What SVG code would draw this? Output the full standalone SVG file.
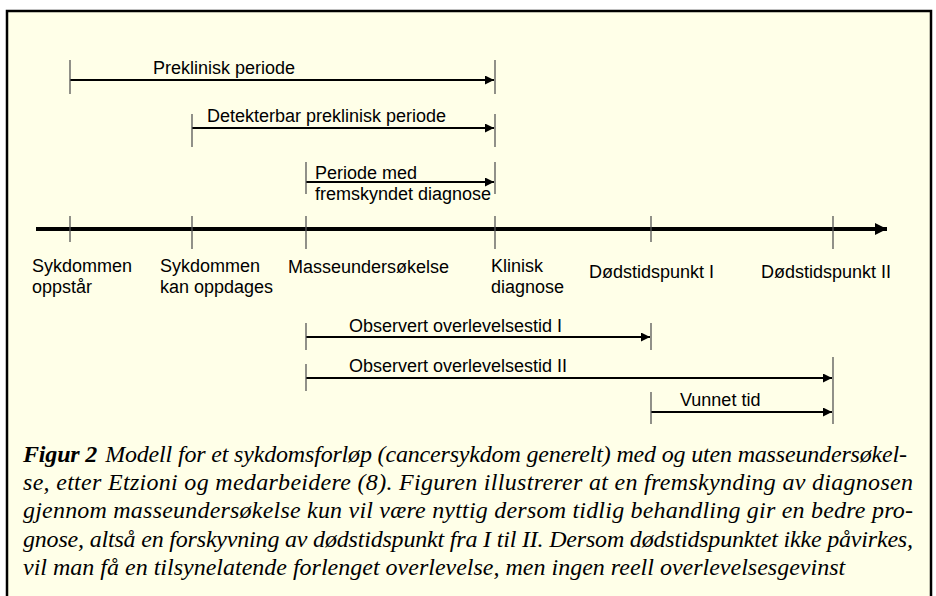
<svg xmlns="http://www.w3.org/2000/svg" width="936" height="596" viewBox="0 0 936 596">
<style>
.lbl{font-family:"Liberation Sans",Arial,sans-serif;font-size:18px;fill:#000}
.cap{font-family:"Liberation Serif","Times New Roman",serif;font-size:24px;font-style:italic;fill:#000}
.tick{stroke:#555;stroke-width:1.3}
.bar{stroke:#000;stroke-width:2;fill:none}
</style>
<defs>
<marker id="ah" viewBox="0 0 10 10" refX="10" refY="5" markerWidth="10" markerHeight="9" markerUnits="userSpaceOnUse" orient="auto">
<path d="M0,0 L10,5 L0,10 Z" fill="#000"/>
</marker>
<marker id="big" viewBox="0 0 10 10" refX="10" refY="5" markerWidth="16" markerHeight="12" markerUnits="userSpaceOnUse" orient="auto">
<path d="M0,0 L10,5 L0,10 Z" fill="#000"/>
</marker>
</defs>
<rect x="0" y="0" width="936" height="596" fill="#fff"/>
<rect x="7" y="11" width="924" height="600" fill="#FFFFE8" stroke="#000" stroke-width="2.5"/>

<g id="axis">
<line x1="36" y1="229" x2="887" y2="229" stroke="#000" stroke-width="4" marker-end="url(#big)"/>
<line class="tick" x1="70" y1="216" x2="70" y2="242"/>
<line class="tick" x1="192" y1="216" x2="192" y2="249"/>
<line class="tick" x1="306" y1="216" x2="306" y2="249"/>
<line class="tick" x1="495" y1="216" x2="495" y2="249"/>
<line class="tick" x1="651" y1="216" x2="651" y2="242"/>
<line class="tick" x1="833" y1="216" x2="833" y2="249"/>
</g>

<g id="lbl-oppstar"><text class="lbl" x="32" y="272">Sykdommen</text><text class="lbl" x="32" y="293">oppstår</text></g>
<g id="lbl-oppdages"><text class="lbl" x="160" y="272">Sykdommen</text><text class="lbl" x="160" y="293">kan oppdages</text></g>
<g id="lbl-masse"><text class="lbl" x="288" y="273">Masseundersøkelse</text></g>
<g id="lbl-klinisk"><text class="lbl" x="491" y="272">Klinisk</text><text class="lbl" x="491" y="293">diagnose</text></g>
<g id="lbl-dod1"><text class="lbl" x="589" y="278">Dødstidspunkt I</text></g>
<g id="lbl-dod2"><text class="lbl" x="761" y="278">Dødstidspunkt II</text></g>

<g id="connectors">
<line class="bar" x1="70" y1="80" x2="494" y2="80" marker-end="url(#ah)"/>
<line class="tick" x1="70" y1="60" x2="70" y2="94"/>
<line class="tick" x1="495" y1="60" x2="495" y2="94"/>

<line class="bar" x1="192" y1="128" x2="494" y2="128" marker-end="url(#ah)"/>
<line class="tick" x1="192" y1="114" x2="192" y2="147"/>
<line class="tick" x1="495" y1="114" x2="495" y2="147"/>

<line class="bar" x1="306" y1="182" x2="494" y2="182" marker-end="url(#ah)"/>
<line class="tick" x1="306" y1="162" x2="306" y2="194"/>
<line class="tick" x1="495" y1="162" x2="495" y2="194"/>

<line class="bar" x1="306" y1="337" x2="650" y2="337" marker-end="url(#ah)"/>
<line class="tick" x1="306" y1="323" x2="306" y2="350"/>
<line class="tick" x1="651" y1="323" x2="651" y2="350"/>

<line class="bar" x1="306" y1="378" x2="832" y2="378" marker-end="url(#ah)"/>
<line class="tick" x1="306" y1="364" x2="306" y2="391"/>
<line class="tick" x1="833" y1="357" x2="833" y2="424"/>

<line class="bar" x1="651" y1="412" x2="832" y2="412" marker-end="url(#ah)"/>
<line class="tick" x1="651" y1="392" x2="651" y2="424"/>
</g>

<g id="period-labels">
<text class="lbl" x="153" y="74">Preklinisk periode</text>
<text class="lbl" x="207" y="122">Detekterbar preklinisk periode</text>
<text class="lbl" x="315" y="179">Periode med</text>
<text class="lbl" x="315" y="200">fremskyndet diagnose</text>
<text class="lbl" x="349" y="332">Observert overlevelsestid I</text>
<text class="lbl" x="349" y="372">Observert overlevelsestid II</text>
<text class="lbl" x="680" y="406">Vunnet tid</text>
</g>

<g id="caption">
<text class="cap" x="23" y="462" textLength="884" lengthAdjust="spacing"><tspan font-weight="bold">Figur 2</tspan><tspan dx="8">Modell for et sykdomsforløp (cancersykdom generelt) med og uten masseundersøkel-</tspan></text>
<text class="cap" x="23" y="490" textLength="890" lengthAdjust="spacing">se, etter Etzioni og medarbeidere (8). Figuren illustrerer at en fremskynding av diagnosen</text>
<text class="cap" x="23" y="518" textLength="890" lengthAdjust="spacing">gjennom masseundersøkelse kun vil være nyttig dersom tidlig behandling gir en bedre pro-</text>
<text class="cap" x="23" y="547" textLength="890" lengthAdjust="spacing">gnose, altså en forskyvning av dødstidspunkt fra I til II. Dersom dødstidspunktet ikke påvirkes,</text>
<text class="cap" x="23" y="575">vil man få en tilsynelatende forlenget overlevelse, men ingen reell overlevelsesgevinst</text>
</g>
</svg>
